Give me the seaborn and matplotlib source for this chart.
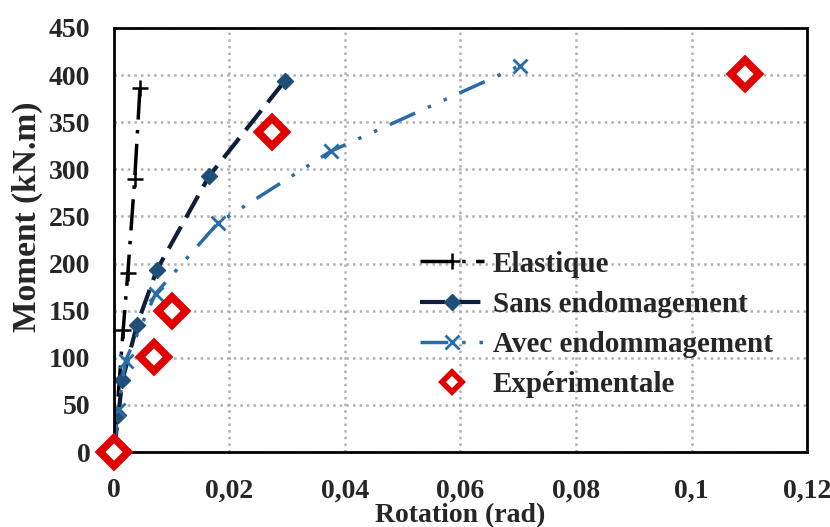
"""
Moment - rotation curves: elastic model, models with/without damage and test points.
"""

import matplotlib
matplotlib.use("Agg")
import matplotlib.pyplot as plt
import seaborn as sns

# %% Data
elastique_rot = [0, 0.0016, 0.0024, 0.0036, 0.0045]
elastique_mom = [0, 130, 190, 290, 386]

sans_rot = [0, 0.00075, 0.00145, 0.0040, 0.0074, 0.0165, 0.0296]
sans_mom = [0, 39, 76, 135, 193, 293, 394]

avec_rot = [0, 0.0007, 0.0020, 0.0072, 0.0180, 0.0375, 0.0703]
avec_mom = [0, 45, 97, 168, 243, 319, 410]

exp_rot = [0, 0.0069, 0.0100, 0.0274, 0.1093]
exp_mom = [0, 101, 150, 340, 401]

x_ticks = [0, 0.02, 0.04, 0.06, 0.08, 0.10, 0.12]
x_tick_labels = ["0", "0,02", "0,04", "0,06", "0,08", "0,1", "0,12"]
y_ticks = list(range(0, 451, 50))

# %% Plot
sns.set_style("white")
plt.rcParams["font.family"] = ["Liberation Serif", "DejaVu Serif"]
plt.rcParams["font.weight"] = "bold"

fig = plt.figure(figsize=(8.3, 5.27), dpi=100)
ax = fig.add_axes([0.1373, 0.1423, 0.835, 0.8046])

sns.lineplot(x=elastique_rot, y=elastique_mom, ax=ax, sort=False, estimator=None,
             color="black", linewidth=2.5, linestyle=(0, (9, 3, 1, 3)),
             marker="+", markersize=12, markeredgewidth=1.8,
             markeredgecolor="black", label="Elastique")
sns.lineplot(x=sans_rot, y=sans_mom, ax=ax, sort=False, estimator=None,
             color="#0f1e3c", linewidth=3, linestyle=(0, (6, 2.5)),
             marker="D", markersize=8, markerfacecolor="#1f4e79",
             markeredgecolor="#1f4e79", markeredgewidth=1, label="Sans endomagement")
sns.lineplot(x=avec_rot, y=avec_mom, ax=ax, sort=False, estimator=None,
             color="#2a6ca8", linewidth=2.5, linestyle=(0, (8, 4, 1, 4, 1, 4)),
             marker="x", markersize=10, markeredgewidth=2,
             markeredgecolor="#2a6ca8", label="Avec endommagement")
ax.plot(exp_rot, exp_mom, linestyle="none", marker="D", markersize=14,
        markerfacecolor="white", markeredgecolor="#e00000", markeredgewidth=5.5,
        label="Expérimentale", zorder=5, clip_on=False)

ax.set_xlim(0, 0.12)
ax.set_ylim(0, 450)
ax.set_xticks(x_ticks)
ax.set_xticklabels(x_tick_labels)
ax.set_yticks(y_ticks)
ax.tick_params(labelsize=20, length=0)
ax.tick_params(axis="x", pad=19)
ax.tick_params(axis="y", pad=17)
ax.grid(True, color="#b0b0b0", linestyle=":", linewidth=1.8)
for s in ax.spines.values():
    s.set_color("black")
    s.set_linewidth(2)

ax.set_xlabel("Rotation (rad)", fontsize=20, fontweight="bold", labelpad=0)
ax.set_ylabel("Moment (kN.m)", fontsize=24, fontweight="bold")
ax.yaxis.set_label_coords(-0.103, 0.555)

leg = ax.legend(loc="upper left", bbox_to_anchor=(0.4416, 0.475), frameon=False,
                fontsize=21, handlelength=2.2, handletextpad=0.3, labelspacing=0.45,
                borderaxespad=0, borderpad=0)
# smaller diamond in the legend, as in the original
leg.legend_handles[3].set_markersize(10)
leg.legend_handles[3].set_markeredgewidth(4)

fig.savefig("out.png", dpi=100)
